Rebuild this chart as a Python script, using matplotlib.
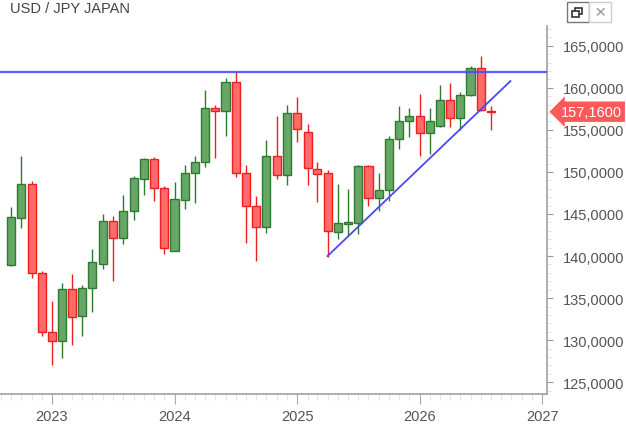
import matplotlib
matplotlib.use("Agg")
import matplotlib.pyplot as plt
import matplotlib.dates as mdates
from matplotlib.patches import Rectangle
from matplotlib.ticker import FuncFormatter, MultipleLocator
import pandas as pd

plt.rcParams['font.family'] = ['Liberation Sans', 'DejaVu Sans']

# monthly candles (start of month)
months = pd.date_range('2022-09-01', '2026-08-01', freq='MS')
opens = [138.9, 144.5, 148.6, 138.0, 131.0, 129.9, 136.1, 132.9, 136.2, 139.1,
         144.2, 142.1, 145.4, 149.2, 151.5, 148.1, 140.6, 146.7, 149.9, 151.2,
         157.6, 157.2, 160.7, 149.9, 146.0, 143.5, 151.9, 149.6, 157.0, 154.8,
         150.4, 149.9, 142.9, 143.8, 143.9, 150.7, 146.9, 147.8, 153.9, 156.0,
         156.6, 154.6, 155.5, 158.5, 156.4, 159.1, 162.4, 157.3]
highs = [145.8, 151.9, 148.9, 138.2, 134.7, 136.8, 137.9, 136.5, 140.8, 145.0,
         144.8, 147.3, 149.5, 151.7, 151.8, 148.3, 148.8, 150.8, 151.9, 159.8,
         157.9, 161.2, 161.9, 150.8, 147.1, 153.8, 156.6, 158.0, 158.9, 155.7,
         151.2, 150.2, 148.6, 148.0, 150.8, 150.8, 149.9, 154.3, 157.8, 157.6,
         159.3, 157.6, 160.3, 160.6, 159.5, 162.6, 163.8, 157.8]
lows = [138.8, 143.3, 137.4, 130.5, 127.1, 127.9, 129.4, 130.5, 133.3, 138.5,
        137.0, 141.4, 144.3, 147.2, 146.6, 140.2, 140.6, 145.6, 146.3, 150.6,
        151.6, 154.3, 149.4, 141.5, 139.4, 142.8, 149.2, 148.5, 153.5, 148.4,
        146.4, 139.9, 142.0, 142.4, 142.6, 146.0, 145.4, 146.5, 152.7, 154.2,
        151.9, 152.1, 155.3, 155.3, 155.0, 159.0, 157.3, 155.0]
closes = [144.7, 148.6, 138.0, 131.0, 129.9, 136.1, 132.7, 136.2, 139.3, 144.2,
          142.1, 145.4, 149.3, 151.5, 148.1, 141.0, 146.8, 149.9, 151.2, 157.6,
          157.2, 160.7, 149.9, 146.0, 143.5, 151.9, 149.6, 157.0, 155.1, 150.5,
          149.8, 143.0, 143.9, 144.0, 150.7, 146.9, 147.8, 153.9, 156.0, 156.6,
          154.6, 156.0, 158.5, 156.4, 159.1, 162.4, 157.4, 157.16]

resistance = 161.85
trend_dates = ['2025-04-01', '2026-09-28']
trend_values = [140.0, 160.8]
last_price = 157.16

green_fill, green_edge = '#66a766', '#2e7a30'
red_fill, red_edge = '#ff6b6b', '#f01e1e'

fig = plt.figure(figsize=(6.26, 4.27), dpi=100)
W, H = 626, 427
ax = fig.add_axes([0, 32 / H, 546.7 / W, 368 / H])

x = mdates.date2num(months)
for xi, o, h, l, c in zip(x, opens, highs, lows, closes):
    up = c >= o
    fc = green_fill if up else red_fill
    ec = green_edge if up else red_edge
    ax.vlines(xi, l, h, color=ec, linewidth=1, zorder=2)
    bottom = min(o, c)
    height = max(abs(c - o), 0.12)
    ax.bar(xi, height, bottom=bottom, width=24, color=fc, edgecolor=ec,
           linewidth=1, zorder=3)

ax.axhline(resistance, color='#4a4aff', linewidth=1.6, alpha=0.9, zorder=4)
ax.plot(mdates.date2num(pd.to_datetime(trend_dates)), trend_values,
        color='#4a4aee', linewidth=1.3, zorder=4)

ax.set_xlim(mdates.date2num(pd.Timestamp('2022-07-30')),
            mdates.date2num(pd.Timestamp('2027-01-14')))
ax.set_ylim(123.6, 167.35)

# axes styling
for s in ['left', 'top']:
    ax.spines[s].set_visible(False)
for s in ['right', 'bottom']:
    ax.spines[s].set_color('#a0a0a0')
    ax.spines[s].set_linewidth(1.2)

ax.yaxis.tick_right()
ax.yaxis.set_major_locator(MultipleLocator(5))
ax.yaxis.set_minor_locator(MultipleLocator(1))
ax.yaxis.set_major_formatter(FuncFormatter(lambda v, p: f"{v:.4f}".replace('.', ',')))
ax.tick_params(axis='y', which='major', length=4, color='#999999', pad=8,
               labelsize=10.5, labelcolor='#555555')
ax.tick_params(axis='y', which='minor', length=3, color='#dddddd')

ax.xaxis.set_major_locator(mdates.YearLocator())
ax.xaxis.set_minor_locator(mdates.MonthLocator())
ax.xaxis.set_major_formatter(mdates.DateFormatter('%Y'))
ax.tick_params(axis='x', which='major', length=7, color='#aaaaaa', pad=4,
               labelsize=10.5, labelcolor='#555555')
ax.tick_params(axis='x', which='minor', length=4, color='#dddddd')

# last price label
ax.annotate(f"{last_price:.4f}".replace('.', ','), xy=(1.0, last_price),
            xycoords=ax.get_yaxis_transform(), xytext=(10, 0),
            textcoords='offset points', ha='left', va='center',
            fontsize=10.5, color='white',
            bbox=dict(boxstyle='larrow,pad=0.22', fc='#ff5858', ec='none'),
            annotation_clip=False, zorder=10)

# title
fig.text(10 / W, 1 - 2 / H, 'USD / JPY JAPAN', ha='left', va='top',
         fontsize=10.5, color='#444444')

# window buttons (top right)
def px_rect(x0, y0, w, h, **kw):
    fig.add_artist(Rectangle((x0 / W, 1 - (y0 + h) / H), w / W, h / H,
                             transform=fig.transFigure, **kw))

px_rect(567, 3, 22, 20, fc='white', ec='#777777', lw=1)
px_rect(589, 3, 22, 20, fc='white', ec='#cccccc', lw=1)
px_rect(575, 9, 7, 6, fc='none', ec='#333333', lw=1.2)
px_rect(572, 12, 7, 6, fc='white', ec='#333333', lw=1.2)
fig.text(600 / W, 1 - 13.5 / H, '×', ha='center', va='center',
         fontsize=14, color='#999999')

fig.savefig('out.png', dpi=100)
